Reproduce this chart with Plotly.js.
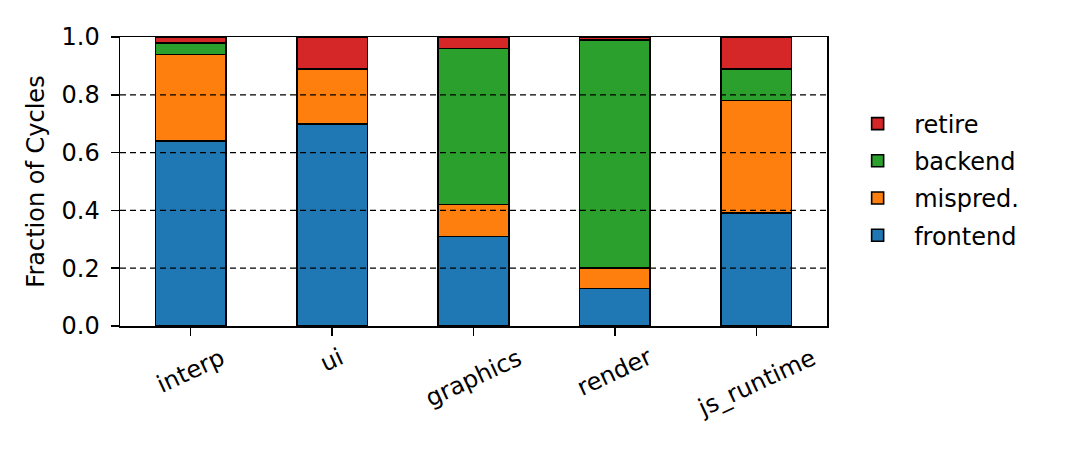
<!DOCTYPE html>
<html>
<head>
<meta charset="utf-8">
<script src="https://cdn.plot.ly/plotly-3.0.1.min.js"></script>
<style>
  html, body { margin: 0; padding: 0; background: #fff; }
  #chart { width: 1080px; height: 450px; }
</style>
</head>
<body>
<div id="chart"></div>
<script>
// categories and stacked fractions (bottom to top)
var workloads = ['interp', 'ui', 'graphics', 'render', 'js_runtime'];
var frontend = [0.64, 0.70, 0.31, 0.13, 0.39];
var mispred  = [0.30, 0.19, 0.11, 0.07, 0.39];
var backend  = [0.04, 0.00, 0.54, 0.79, 0.11];
var retire   = [0.02, 0.11, 0.04, 0.01, 0.11];
var gridTicks = [0.2, 0.4, 0.6, 0.8];

function barTrace(name, vals, color, rank) {
  return {
    x: workloads,
    y: vals,
    type: 'bar',
    name: name,
    legendgroup: name,
    legendrank: rank,
    width: 0.5,
    marker: { color: color, line: { color: '#000', width: 1.6 } }
  };
}

var data = [
  barTrace('frontend', frontend, '#1f77b4', 4),
  barTrace('mispred.', mispred, '#ff7f0e', 3),
  barTrace('backend', backend, '#2ca02c', 2),
  barTrace('retire', retire, '#d62728', 1)
];

// dashed grid drawn over the bars, like the original
var shapes = gridTicks.map(function (v) {
  return {
    type: 'line', xref: 'paper', x0: 0, x1: 1, yref: 'y', y0: v, y1: v,
    line: { color: '#000', width: 1.3, dash: '6px,4px' }, layer: 'above'
  };
});

// tick labels centred under each bar, rotated like matplotlib's
var labels = workloads.map(function (w) {
  return {
    x: w, xref: 'x', y: -0.05, yref: 'paper',
    text: w, showarrow: false, textangle: -25,
    xanchor: 'center', yanchor: 'top',
    font: { size: 24 }
  };
});

var layout = {
  width: 1080,
  height: 450,
  barmode: 'stack',
  font: { family: 'DejaVu Sans', size: 24, color: '#000' },
  margin: { l: 120, r: 253, t: 37, b: 124 },
  paper_bgcolor: '#fff',
  plot_bgcolor: '#fff',
  showlegend: true,
  legend: {
    traceorder: 'grouped',
    tracegroupgap: 3,
    x: 1.02, xanchor: 'left',
    y: 0.507, yanchor: 'middle',
    font: { size: 24 },
    itemwidth: 63
  },
  xaxis: {
    range: [-0.5, 4.5],
    showticklabels: false,
    ticks: 'outside', ticklen: 8, tickwidth: 1.5, tickcolor: '#000',
    showline: true, linecolor: '#000', linewidth: 1.5, mirror: true,
    showgrid: false
  },
  yaxis: {
    range: [0, 1],
    tickvals: [0, 0.2, 0.4, 0.6, 0.8, 1.0],
    ticktext: ['0.0', '0.2', '0.4', '0.6', '0.8', '1.0'],
    ticks: 'outside', ticklen: 8, tickwidth: 1.5, tickcolor: '#000',
    ticklabelstandoff: 6,
    showline: true, linecolor: '#000', linewidth: 1.5, mirror: true,
    showgrid: false, zeroline: false,
    title: { text: 'Fraction of Cycles', font: { size: 24 }, standoff: 10 }
  },
  shapes: shapes,
  annotations: labels
};

Plotly.newPlot('chart', data, layout, { staticPlot: true });
</script>
</body>
</html>
